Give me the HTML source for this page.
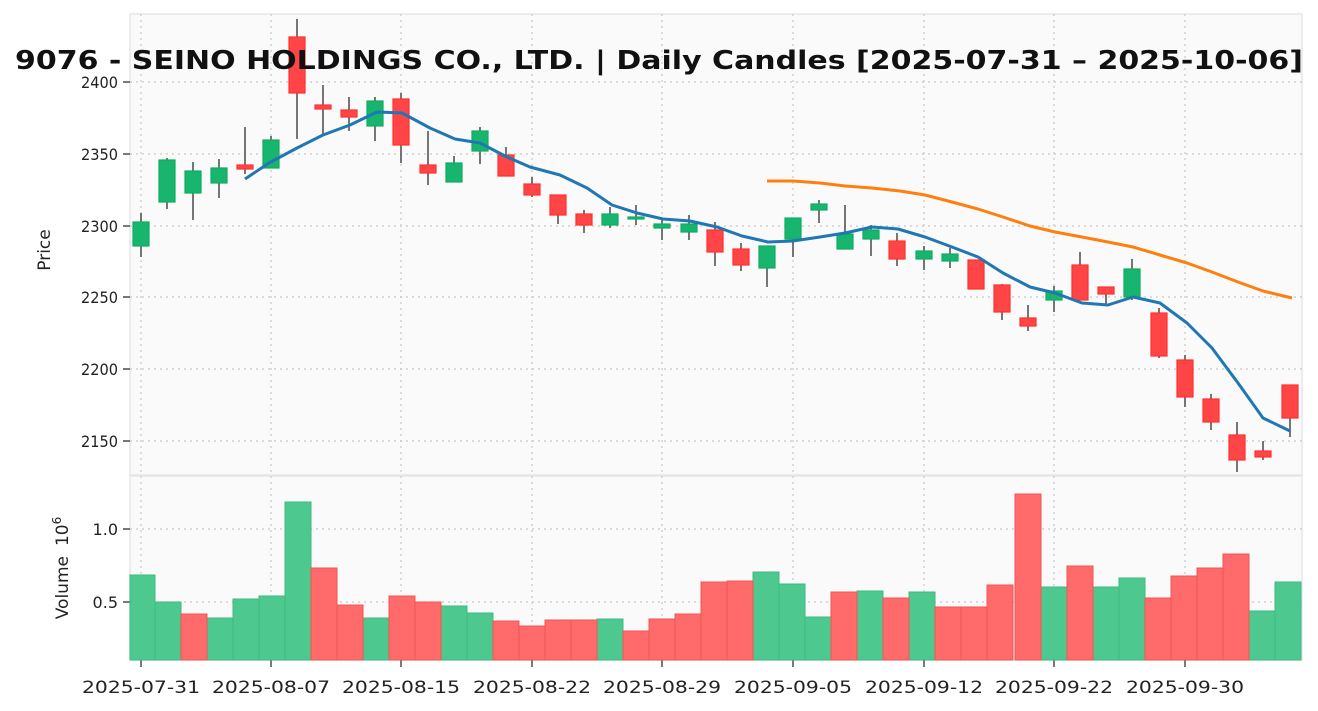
<!DOCTYPE html>
<html><head><meta charset="utf-8"><style>
html,body{margin:0;padding:0;background:#fff;}
svg{display:block;font-family:"DejaVu Sans","Liberation Sans",sans-serif;}
</style></head><body>
<svg width="1318" height="711" viewBox="0 0 1318 711" xmlns="http://www.w3.org/2000/svg">
<rect x="0" y="0" width="1318" height="711" fill="#fff"/>
<rect x="130" y="14" width="1172" height="461" fill="#fafafa" stroke="#e6e6e6" stroke-width="1.5"/>
<rect x="130" y="476" width="1172" height="184" fill="#fafafa" stroke="#e6e6e6" stroke-width="1.5"/>
<g stroke="#c8c8c8" stroke-width="1.2" stroke-dasharray="2,4">
<line x1="141" y1="14" x2="141" y2="660"/><line x1="271" y1="14" x2="271" y2="660"/><line x1="401" y1="14" x2="401" y2="660"/><line x1="532" y1="14" x2="532" y2="660"/><line x1="662" y1="14" x2="662" y2="660"/><line x1="793" y1="14" x2="793" y2="660"/><line x1="924" y1="14" x2="924" y2="660"/><line x1="1054" y1="14" x2="1054" y2="660"/><line x1="1185" y1="14" x2="1185" y2="660"/>
<line x1="130" y1="82" x2="1302" y2="82"/><line x1="130" y1="154" x2="1302" y2="154"/><line x1="130" y1="226" x2="1302" y2="226"/><line x1="130" y1="297" x2="1302" y2="297"/><line x1="130" y1="369" x2="1302" y2="369"/><line x1="130" y1="441" x2="1302" y2="441"/>
<line x1="130" y1="529" x2="1302" y2="529"/><line x1="130" y1="602" x2="1302" y2="602"/>
</g>
<g fill="#222" font-size="16" text-anchor="end">
<text x="118" y="88" textLength="37" lengthAdjust="spacingAndGlyphs">2400</text><text x="118" y="160" textLength="37" lengthAdjust="spacingAndGlyphs">2350</text><text x="118" y="232" textLength="37" lengthAdjust="spacingAndGlyphs">2300</text><text x="118" y="303" textLength="37" lengthAdjust="spacingAndGlyphs">2250</text><text x="118" y="375" textLength="37" lengthAdjust="spacingAndGlyphs">2200</text><text x="118" y="447" textLength="37" lengthAdjust="spacingAndGlyphs">2150</text>
<text x="118" y="535">1.0</text><text x="118" y="608">0.5</text>
</g>
<g stroke="#222" stroke-width="1.2">
<line x1="123" y1="82" x2="130" y2="82"/><line x1="123" y1="154" x2="130" y2="154"/><line x1="123" y1="226" x2="130" y2="226"/><line x1="123" y1="297" x2="130" y2="297"/><line x1="123" y1="369" x2="130" y2="369"/><line x1="123" y1="441" x2="130" y2="441"/><line x1="123" y1="529" x2="130" y2="529"/><line x1="123" y1="602" x2="130" y2="602"/>
<line x1="141" y1="660" x2="141" y2="667"/><line x1="271" y1="660" x2="271" y2="667"/><line x1="401" y1="660" x2="401" y2="667"/><line x1="532" y1="660" x2="532" y2="667"/><line x1="662" y1="660" x2="662" y2="667"/><line x1="793" y1="660" x2="793" y2="667"/><line x1="924" y1="660" x2="924" y2="667"/><line x1="1054" y1="660" x2="1054" y2="667"/><line x1="1185" y1="660" x2="1185" y2="667"/>
</g>
<g fill="#222" font-size="17" text-anchor="middle">
<text x="141" y="693" textLength="118" lengthAdjust="spacingAndGlyphs">2025-07-31</text><text x="271" y="693" textLength="118" lengthAdjust="spacingAndGlyphs">2025-08-07</text><text x="401" y="693" textLength="118" lengthAdjust="spacingAndGlyphs">2025-08-15</text><text x="532" y="693" textLength="118" lengthAdjust="spacingAndGlyphs">2025-08-22</text><text x="662" y="693" textLength="118" lengthAdjust="spacingAndGlyphs">2025-08-29</text><text x="793" y="693" textLength="118" lengthAdjust="spacingAndGlyphs">2025-09-05</text><text x="924" y="693" textLength="118" lengthAdjust="spacingAndGlyphs">2025-09-12</text><text x="1054" y="693" textLength="118" lengthAdjust="spacingAndGlyphs">2025-09-22</text><text x="1185" y="693" textLength="118" lengthAdjust="spacingAndGlyphs">2025-09-30</text>
</g>
<text x="50" y="250" font-size="17" fill="#222" text-anchor="middle" transform="rotate(-90 50 250)">Price</text>
<text x="68" y="568" font-size="17" fill="#222" text-anchor="middle" transform="rotate(-90 68 568)">Volume<tspan dx="10">10</tspan><tspan dy="-7" font-size="12">6</tspan></text>

<!-- volume -->
<g stroke-width="1">
<g fill="#4dc88f" stroke="#3dbb80">
<rect x="130" y="575" width="25" height="85"/><rect x="155" y="602" width="26" height="58"/><rect x="207" y="618" width="26" height="42"/><rect x="233" y="599" width="26" height="61"/><rect x="259" y="596" width="26" height="64"/><rect x="285" y="502" width="26" height="158"/><rect x="363" y="618" width="26" height="42"/><rect x="441" y="606" width="26" height="54"/><rect x="467" y="613" width="26" height="47"/><rect x="597" y="619" width="26" height="41"/><rect x="753" y="572" width="26" height="88"/><rect x="779" y="584" width="26" height="76"/><rect x="805" y="617" width="26" height="43"/><rect x="857" y="591" width="26" height="69"/><rect x="909" y="592" width="26" height="68"/><rect x="1041" y="587" width="26" height="73"/><rect x="1093" y="587" width="26" height="73"/><rect x="1119" y="578" width="26" height="82"/><rect x="1249" y="611" width="26" height="49"/><rect x="1275" y="582" width="26" height="78"/>
</g>
<g fill="#ff6b6b" stroke="#f25555">
<rect x="181" y="614" width="26" height="46"/><rect x="311" y="568" width="26" height="92"/><rect x="337" y="605" width="26" height="55"/><rect x="389" y="596" width="26" height="64"/><rect x="415" y="602" width="26" height="58"/><rect x="493" y="621" width="26" height="39"/><rect x="519" y="626" width="26" height="34"/><rect x="545" y="620" width="26" height="40"/><rect x="571" y="620" width="26" height="40"/><rect x="623" y="631" width="26" height="29"/><rect x="649" y="619" width="26" height="41"/><rect x="675" y="614" width="26" height="46"/><rect x="701" y="582" width="26" height="78"/><rect x="727" y="581" width="26" height="79"/><rect x="831" y="592" width="26" height="68"/><rect x="883" y="598" width="26" height="62"/><rect x="935" y="607" width="26" height="53"/><rect x="961" y="607" width="26" height="53"/><rect x="987" y="585" width="26" height="75"/><rect x="1015" y="494" width="26" height="166"/><rect x="1067" y="566" width="26" height="94"/><rect x="1145" y="598" width="26" height="62"/><rect x="1171" y="576" width="26" height="84"/><rect x="1197" y="568" width="26" height="92"/><rect x="1223" y="554" width="26" height="106"/>
</g>
</g>

<!-- wicks -->
<g stroke="#555" stroke-width="1.6">
<line x1="141" y1="213" x2="141" y2="257"/><line x1="167" y1="158" x2="167" y2="209"/><line x1="193" y1="162" x2="193" y2="220"/><line x1="219" y1="159" x2="219" y2="198"/><line x1="245" y1="127" x2="245" y2="174"/><line x1="271" y1="136" x2="271" y2="168"/><line x1="297" y1="19" x2="297" y2="139"/><line x1="323" y1="85" x2="323" y2="135"/><line x1="349" y1="97" x2="349" y2="131"/><line x1="375" y1="97" x2="375" y2="141"/><line x1="401" y1="93" x2="401" y2="163"/><line x1="428" y1="131" x2="428" y2="185"/><line x1="454" y1="156" x2="454" y2="182"/><line x1="480" y1="127" x2="480" y2="164"/><line x1="506" y1="147" x2="506" y2="176"/><line x1="532" y1="177" x2="532" y2="197"/><line x1="558" y1="195" x2="558" y2="224"/><line x1="584" y1="210" x2="584" y2="233"/><line x1="610" y1="207" x2="610" y2="228"/><line x1="636" y1="205" x2="636" y2="225"/><line x1="662" y1="220" x2="662" y2="240"/><line x1="689" y1="215" x2="689" y2="240"/><line x1="715" y1="222" x2="715" y2="266"/><line x1="741" y1="243" x2="741" y2="271"/><line x1="767" y1="246" x2="767" y2="287"/><line x1="793" y1="218" x2="793" y2="257"/><line x1="819" y1="200" x2="819" y2="223"/><line x1="845" y1="205" x2="845" y2="249"/><line x1="871" y1="225" x2="871" y2="256"/><line x1="897" y1="233" x2="897" y2="266"/><line x1="924" y1="246" x2="924" y2="270"/><line x1="950" y1="248" x2="950" y2="268"/><line x1="976" y1="260" x2="976" y2="289"/><line x1="1002" y1="284" x2="1002" y2="320"/><line x1="1028" y1="305" x2="1028" y2="331"/><line x1="1054" y1="286" x2="1054" y2="312"/><line x1="1080" y1="252" x2="1080" y2="300"/><line x1="1106" y1="287" x2="1106" y2="304"/><line x1="1132" y1="259" x2="1132" y2="300"/><line x1="1159" y1="308" x2="1159" y2="358"/><line x1="1185" y1="355" x2="1185" y2="407"/><line x1="1211" y1="394" x2="1211" y2="430"/><line x1="1237" y1="422" x2="1237" y2="472"/><line x1="1263" y1="441" x2="1263" y2="460"/><line x1="1290" y1="385" x2="1290" y2="437"/>
</g>
<!-- bodies -->
<g fill="#18b56e" stroke="#0fae62" stroke-width="1.2">
<rect x="133" y="222" width="16" height="24"/><rect x="159" y="160" width="16" height="42"/><rect x="185" y="171" width="16" height="22"/><rect x="211" y="168" width="16" height="15"/><rect x="263" y="140" width="16" height="28"/><rect x="367" y="101" width="16" height="25"/><rect x="446" y="163" width="16" height="19"/><rect x="472" y="131" width="16" height="20"/><rect x="602" y="214" width="16" height="11"/><rect x="628" y="217" width="16" height="2"/><rect x="654" y="224" width="16" height="4"/><rect x="681" y="224" width="16" height="8"/><rect x="759" y="246" width="16" height="22"/><rect x="785" y="218" width="16" height="21"/><rect x="811" y="204" width="16" height="6"/><rect x="837" y="234" width="16" height="15"/><rect x="863" y="230" width="16" height="9"/><rect x="916" y="251" width="16" height="8"/><rect x="942" y="254" width="16" height="7"/><rect x="1046" y="291" width="16" height="9"/><rect x="1124" y="269" width="16" height="28"/>
</g>
<g fill="#ff4545" stroke="#ff3030" stroke-width="1.2">
<rect x="237" y="165" width="16" height="4"/><rect x="289" y="37" width="16" height="56"/><rect x="315" y="105" width="16" height="4"/><rect x="341" y="110" width="16" height="7"/><rect x="393" y="99" width="16" height="46"/><rect x="420" y="165" width="16" height="8"/><rect x="498" y="155" width="16" height="21"/><rect x="524" y="184" width="16" height="11"/><rect x="550" y="195" width="16" height="20"/><rect x="576" y="214" width="16" height="11"/><rect x="707" y="230" width="16" height="22"/><rect x="733" y="249" width="16" height="16"/><rect x="889" y="241" width="16" height="18"/><rect x="968" y="260" width="16" height="29"/><rect x="994" y="285" width="16" height="27"/><rect x="1020" y="318" width="16" height="8"/><rect x="1072" y="265" width="16" height="35"/><rect x="1098" y="287" width="16" height="7"/><rect x="1151" y="313" width="16" height="43"/><rect x="1177" y="360" width="16" height="37"/><rect x="1203" y="399" width="16" height="23"/><rect x="1229" y="435" width="16" height="25"/><rect x="1255" y="451" width="16" height="6"/><rect x="1282" y="385" width="16" height="33"/>
</g>
<polyline fill="none" stroke="#1f77b4" stroke-width="3" stroke-linejoin="round" points="245,179 269,163 297,148 323,135 350,125 377,112 402,113 430,128 455,139 480,143 507,157 530,167 560,175 587,188 612,205 637,213 663,219 690,221 717,227 742,236 768,242 793,241 820,237 845,233 872,227 898,229 925,237 952,247 978,257 1003,273 1030,287 1055,293 1082,303 1108,305 1133,297 1160,303 1187,323 1212,348 1238,383 1263,418 1290,431"/>
<polyline fill="none" stroke="#ff7f0e" stroke-width="3" stroke-linejoin="round" points="767,181 793,181 820,183 845,186 872,188 900,191 925,195 952,202 978,209 1003,217 1030,226 1055,232 1082,237 1108,242 1133,247 1160,255 1187,263 1212,272 1238,282 1263,291 1292,298"/>
<text x="659" y="69" font-size="26" font-weight="bold" fill="#111" text-anchor="middle" textLength="1288" lengthAdjust="spacingAndGlyphs">9076 - SEINO HOLDINGS CO., LTD. | Daily Candles [2025-07-31 – 2025-10-06]</text>
</svg>
</body></html>
